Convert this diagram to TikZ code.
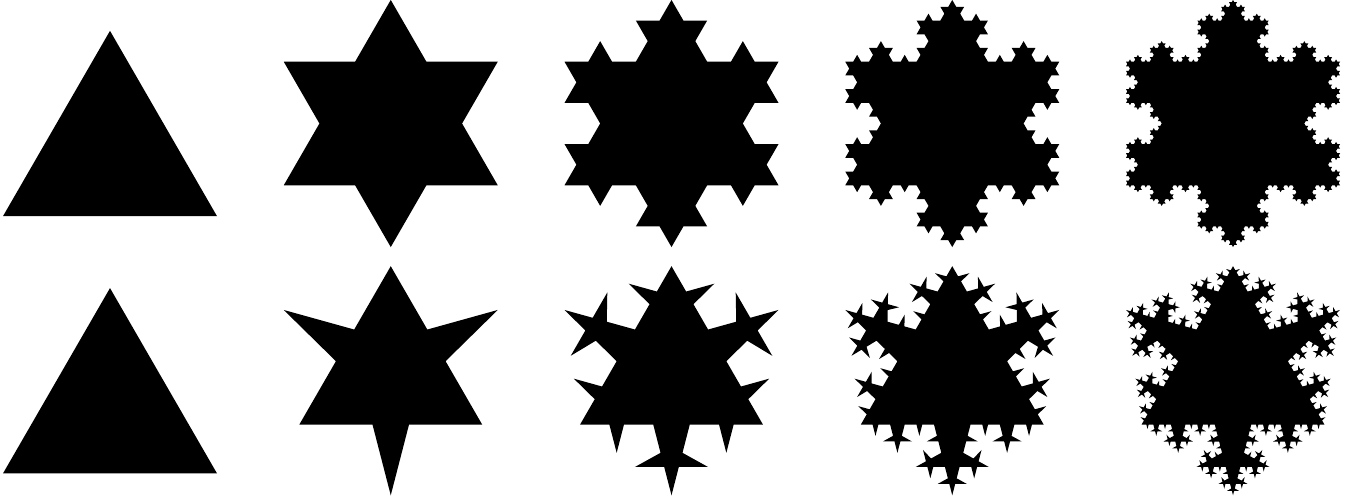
\documentclass[tikz,border=0pt]{standalone}
\usepackage{tikz}

\newif\ifflakedraw

% one turtle step, either drawn or only measured
\newcommand\flakestep{%
  \pgfmathsetmacro\fx{\fx+cos(\fh)}%
  \pgfmathsetmacro\fy{\fy+sin(\fh)}%
  \ifflakedraw
    \pgfpathlineto{\pgfpointxy{\fx}{\fy}}%
  \else
    \pgfmathsetmacro\fxmin{min(\fxmin,\fx)}%
    \pgfmathsetmacro\fxmax{max(\fxmax,\fx)}%
    \pgfmathsetmacro\fymin{min(\fymin,\fy)}%
    \pgfmathsetmacro\fymax{max(\fymax,\fy)}%
  \fi}
\newcommand\flaketurn[1]{\pgfmathsetmacro\fh{\fh+(#1)}}
\newcommand\flakeside[1]{%
  \ifnum#1=0
    \flakestep
  \else
    \expandafter\flakegen\expandafter{\the\numexpr#1-1\relax}%
  \fi}
\newcommand\flakegen[1]{%
  \flakeside{#1}\flaketurn{-\fang}%
  \flakeside{#1}\flaketurn{2*\fang}%
  \flakeside{#1}\flaketurn{-\fang}%
  \flakeside{#1}}
\newcommand\flakerun[1]{%
  \def\fx{0}\def\fy{0}\def\fh{0}%
  \def\fxmin{0}\def\fxmax{0}\def\fymin{0}\def\fymax{0}%
  \flakeside{#1}\flaketurn{120}\flakeside{#1}\flaketurn{120}\flakeside{#1}}
% order, angle, centre x, centre y
\newcommand\flake[4]{%
  \def\fang{#2}%
  \flakedrawfalse
  \flakerun{#1}%
  \pgfmathsetmacro\fscale{214/(\fxmax-\fxmin)}%
  \pgfmathsetmacro\fxc{-(\fxmin+\fxmax)/2}%
  \pgfmathsetmacro\fyc{-(\fymin+\fymax)/2}%
  \begin{scope}[shift={(#3,#4)},scale=\fscale,shift={(\fxc,\fyc)}]
    \flakedrawtrue
    \pgfsetfillcolor{black}%
    \pgfpathmoveto{\pgfpointxy{0}{0}}%
    \flakerun{#1}%
    \pgfpathclose
    \pgfusepath{fill}%
  \end{scope}}

\begin{document}
\begin{tikzpicture}[x=1pt,y=1pt]
    \useasboundingbox (0,0) rectangle (1354,499);

    \foreach \n in {0,...,4} {
        \pgfmathsetmacro\cx{110+280.75*\n}
        \flake{\n}{60}{\cx}{375.5}
        \flake{\n}{75.52}{\cx}{118.25}
    }
\end{tikzpicture}
\end{document}
